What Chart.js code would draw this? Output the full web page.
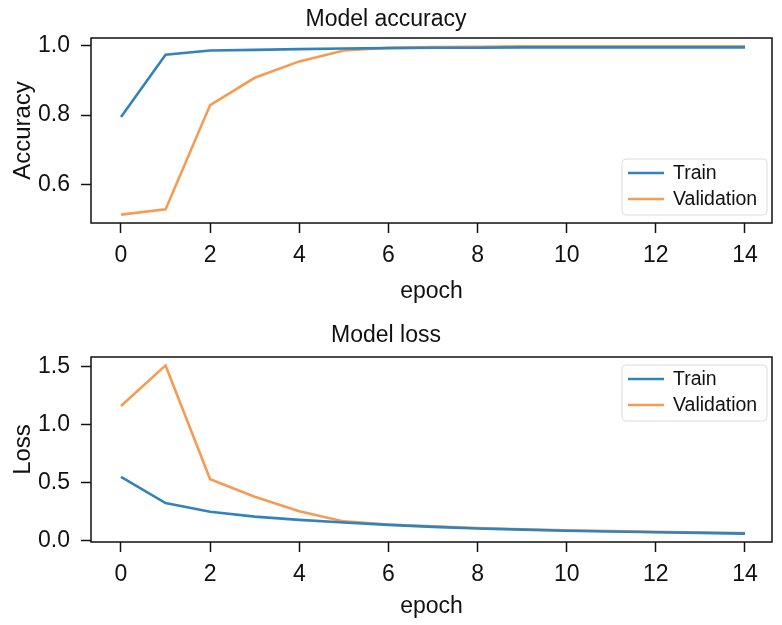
<!DOCTYPE html>
<html>
<head>
<meta charset="utf-8">
<script src="https://cdn.jsdelivr.net/npm/chart.js@4/dist/chart.umd.min.js"></script>
<style>
  body { margin: 0; background: #fff; }
  #wrap { position: relative; width: 782px; height: 625px; background: #fff; }
  #wrap canvas { position: absolute; left: 0; }
  #accChart { top: 0; }
  #lossChart { top: 312px; }
</style>
</head>
<body>
<div id="wrap">
  <canvas id="accChart" width="782" height="312"></canvas>
  <canvas id="lossChart" width="782" height="313"></canvas>
</div>
<script>
// data
const epochs = [0, 1, 2, 3, 4, 5, 6, 7, 8, 9, 10, 11, 12, 13, 14];
const accTrain = [0.795, 0.973, 0.985, 0.987, 0.989, 0.991, 0.992, 0.993, 0.993, 0.994, 0.994, 0.994, 0.994, 0.994, 0.994];
const accVal = [0.515, 0.530, 0.829, 0.907, 0.954, 0.985, 0.993, 0.995, 0.996, 0.997, 0.997, 0.997, 0.997, 0.997, 0.997];
const lossTrain = [0.55, 0.325, 0.25, 0.208, 0.18, 0.157, 0.137, 0.12, 0.106, 0.096, 0.087, 0.08, 0.074, 0.068, 0.062];
const lossVal = [1.16, 1.51, 0.53, 0.38, 0.255, 0.167, 0.14, 0.124, 0.11, 0.1, 0.09, 0.083, 0.077, 0.071, 0.066];
const seriesNames = ['Train', 'Validation'];

document.addEventListener('DOMContentLoaded', () => {
    const FONT = '"Liberation Sans", Arial, Helvetica, sans-serif';
    const BLUE = '#3383ba';
    const ORANGE = '#f49c55';

    Chart.defaults.font.family = FONT;
    Chart.defaults.font.size = 23;
    Chart.defaults.color = '#111';

    // full box around the plot area, like matplotlib spines
    const frame = {
        id: 'frame',
        afterDatasetsDraw(chart) {
            const { ctx, chartArea: a } = chart;
            ctx.save();
            ctx.strokeStyle = '#111';
            ctx.lineWidth = 1.5;
            ctx.strokeRect(a.left, a.top, a.right - a.left, a.bottom - a.top);
            ctx.restore();
        }
    };

    // legend drawn inside the plot area
    const boxLegend = {
        id: 'boxLegend',
        afterDraw(chart, args, opts) {
            const { ctx, chartArea: a } = chart;
            const w = 145, h = 56;
            const x = a.right - 5 - w;
            const y = opts.where === 'lower' ? a.bottom - 8 - h : a.top + 8;
            ctx.save();
            ctx.beginPath();
            ctx.roundRect(x, y, w, h, 4);
            ctx.fillStyle = 'rgba(255,255,255,0.85)';
            ctx.fill();
            ctx.strokeStyle = '#dcdcdc';
            ctx.lineWidth = 1;
            ctx.stroke();
            ctx.font = '19.5px ' + FONT;
            ctx.textBaseline = 'middle';
            chart.data.datasets.forEach((ds, i) => {
                const ly = y + 14 + i * 26;
                ctx.beginPath();
                ctx.moveTo(x + 6, ly);
                ctx.lineTo(x + 42, ly);
                ctx.strokeStyle = ds.borderColor;
                ctx.lineWidth = 2.5;
                ctx.stroke();
                ctx.fillStyle = '#111';
                ctx.fillText(ds.label, x + 51, ly + 1);
            });
            ctx.restore();
        }
    };

    function makeChart(canvasId, cfg) {
        const ctx = document.getElementById(canvasId).getContext('2d');
        const toPts = arr => arr.map((v, i) => ({ x: epochs[i], y: v }));
        return new Chart(ctx, {
            type: 'line',
            data: {
                datasets: [
                    { label: seriesNames[0], data: toPts(cfg.train), borderColor: BLUE, backgroundColor: BLUE },
                    { label: seriesNames[1], data: toPts(cfg.val), borderColor: ORANGE, backgroundColor: ORANGE }
                ]
            },
            options: {
                responsive: false,
                animation: false,
                devicePixelRatio: 1,
                layout: { padding: { left: 0, right: 10, top: 0, bottom: 0 } },
                elements: {
                    line: { borderWidth: 2.6, tension: 0 },
                    point: { radius: 0 }
                },
                scales: {
                    x: {
                        type: 'linear',
                        min: -0.673,
                        max: 14.606,
                        grid: { drawOnChartArea: false, tickLength: 10, tickColor: '#111', tickWidth: 1.5 },
                        border: { display: false },
                        ticks: { stepSize: 2, includeBounds: false, autoSkip: false, maxRotation: 0, padding: 9, color: '#111', callback: v => String(v) },
                        title: { display: true, text: 'epoch', color: '#111', padding: { top: 0, bottom: cfg.epochPad } },
                        afterFit: s => { s.height = cfg.xHeight; }
                    },
                    y: {
                        min: cfg.yMin,
                        max: cfg.yMax,
                        grid: { drawOnChartArea: false, tickLength: 10, tickColor: '#111', tickWidth: 1.5 },
                        border: { display: false },
                        ticks: { stepSize: cfg.yStep, includeBounds: false, padding: 11, color: '#111', callback: v => v.toFixed(1) },
                        title: { display: true, text: cfg.yLabel, color: '#111', font: { size: 24 }, padding: { top: 8.6, bottom: 0 } },
                        afterFit: s => { s.width = 91; }
                    }
                },
                plugins: {
                    legend: { display: false },
                    tooltip: { enabled: false },
                    title: {
                        display: true,
                        text: cfg.title,
                        color: '#111',
                        font: { size: 23, weight: 'normal' },
                        padding: cfg.titlePad
                    },
                    boxLegend: { where: cfg.legendAt }
                }
            },
            plugins: [frame, boxLegend]
        });
    }

    makeChart('accChart', {
        title: 'Model accuracy',
        yLabel: 'Accuracy',
        train: accTrain,
        val: accVal,
        yMin: 0.491,
        yMax: 1.021,
        yStep: 0.2,
        xHeight: 89,
        epochPad: 7,
        titlePad: { top: 6.2, bottom: 4.2 },
        legendAt: 'lower'
    });

    makeChart('lossChart', {
        title: 'Model loss',
        yLabel: 'Loss',
        train: lossTrain,
        val: lossVal,
        yMin: -0.0104,
        yMax: 1.5824,
        yStep: 0.5,
        xHeight: 83,
        epochPad: 4.8,
        titlePad: { top: 9.7, bottom: 7.7 },
        legendAt: 'upper'
    });
});
</script>
</body>
</html>
